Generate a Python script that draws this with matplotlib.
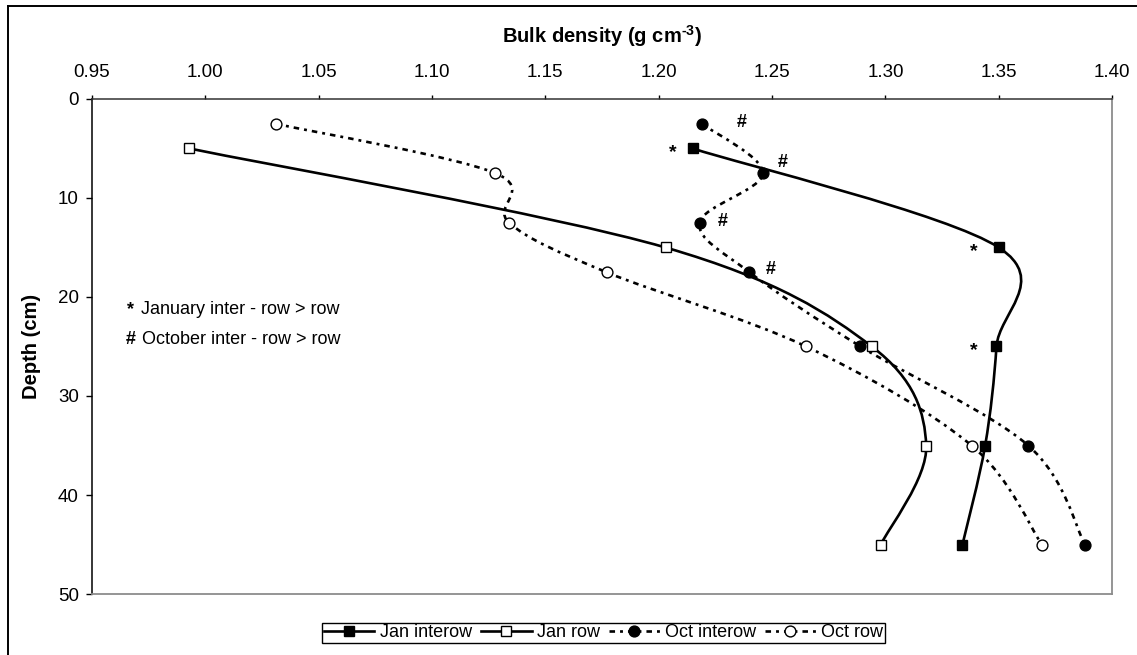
import numpy as np
import matplotlib
matplotlib.use("Agg")
import matplotlib.pyplot as plt
from matplotlib.path import Path
from matplotlib.patches import PathPatch
from matplotlib.lines import Line2D

plt.rcParams['font.family'] = ['Liberation Sans', 'DejaVu Sans']

# bulk density profiles (g cm-3) by sampling depth (cm)
depth_jan = [5, 15, 25, 35, 45]
jan_interow = [1.215, 1.350, 1.349, 1.344, 1.334]
jan_row = [0.993, 1.203, 1.294, 1.318, 1.298]

depth_oct = [2.5, 7.5, 12.5, 17.5, 25, 35, 45]
oct_interow = [1.219, 1.246, 1.218, 1.240, 1.289, 1.363, 1.388]
oct_row = [1.031, 1.128, 1.134, 1.177, 1.265, 1.338, 1.369]

# depths where inter-row > row
jan_sig = [5, 15, 25]
oct_sig = [2.5, 7.5, 12.5, 17.5]

x_ticks = [0.95, 1.00, 1.05, 1.10, 1.15, 1.20, 1.25, 1.30, 1.35, 1.40]
y_ticks = [0, 10, 20, 30, 40, 50]

DASH = (0, (2.1, 1.9, 1.1, 1.9))
LW = 1.9
MS = 7.8


def smooth_path(xs, ys):
    """Catmull-Rom style bezier through the points (like a spreadsheet smoothed line)."""
    p = np.column_stack([xs, ys]).astype(float)
    n = len(p)
    verts = [p[0]]
    codes = [Path.MOVETO]
    for i in range(n - 1):
        p0 = p[i - 1] if i > 0 else p[i]
        p1 = p[i]
        p2 = p[i + 1]
        p3 = p[i + 2] if i + 2 < n else p[i + 1]
        c1 = p1 + (p2 - p0) / 6.0
        c2 = p2 - (p3 - p1) / 6.0
        verts += [c1, c2, p2]
        codes += [Path.CURVE4] * 3
    return Path(verts, codes)


def draw_series(ax, xs, ys, ls, marker, face):
    patch = PathPatch(smooth_path(xs, ys), fill=False, edgecolor='black',
                      linewidth=LW, linestyle=ls, capstyle='butt', zorder=2)
    ax.add_patch(patch)
    ax.plot(xs, ys, linestyle='none', marker=marker, markersize=MS,
            markerfacecolor=face, markeredgecolor='black', markeredgewidth=1.0,
            zorder=3)


fig = plt.figure(figsize=(11.37, 6.55), dpi=100)
ax = fig.add_axes([0.0809, 0.0931, 0.8972, 0.7558])

draw_series(ax, jan_interow, depth_jan, '-', 's', 'black')
draw_series(ax, jan_row, depth_jan, '-', 's', 'white')
draw_series(ax, oct_interow, depth_oct, DASH, 'o', 'black')
draw_series(ax, oct_row, depth_oct, DASH, 'o', 'white')

ax.set_xlim(0.95, 1.40)
ax.set_ylim(50, 0)
ax.xaxis.tick_top()
ax.xaxis.set_label_position('top')
ax.set_xticks(x_ticks)
ax.set_xticklabels([f"{v:.2f}" for v in x_ticks])
ax.set_yticks(y_ticks)
ax.tick_params(axis='x', direction='out', length=3.2, width=1.0, pad=10,
               labelsize=13.5, colors='black')
ax.tick_params(axis='y', direction='out', length=4, width=1.0, pad=5.5,
               labelsize=13.5, colors='black')

ax.spines['top'].set_color('#333333')
ax.spines['top'].set_linewidth(1.1)
ax.spines['left'].set_color('black')
ax.spines['left'].set_linewidth(1.1)
ax.spines['right'].set_color('#8c8c8c')
ax.spines['right'].set_linewidth(1.3)
ax.spines['bottom'].set_color('#8c8c8c')
ax.spines['bottom'].set_linewidth(1.3)

ax.set_xlabel('Bulk density (g cm$^{\\mathregular{\u20103}}$)', fontsize=14.5,
              fontweight='bold', labelpad=15)
ax.set_ylabel('Depth (cm)', fontsize=14.5, fontweight='bold', labelpad=12)

# significance marks next to the points
jan_offsets = [(-14, -3), (-18, -3), (-16, -3)]
for d, off in zip(jan_sig, jan_offsets):
    xv = jan_interow[depth_jan.index(d)]
    ax.annotate('*', xy=(xv, d), xytext=off, textcoords='offset points',
                ha='center', va='center', fontsize=14, fontweight='bold')
oct_offsets = [(29, 1), (14, 8), (17, 1), (15, 2)]
for d, off in zip(oct_sig, oct_offsets):
    xv = oct_interow[depth_oct.index(d)]
    ax.annotate('#', xy=(xv, d), xytext=off, textcoords='offset points',
                ha='center', va='center', fontsize=13, fontweight='bold')

ax.text(0.034, 0.575, '*', transform=ax.transAxes, fontsize=13,
        fontweight='bold', va='center', ha='left')
ax.text(0.0485, 0.575, 'January inter - row > row', transform=ax.transAxes,
        fontsize=13, va='center', ha='left')
ax.text(0.0335, 0.515, '#', transform=ax.transAxes, fontsize=13,
        fontweight='bold', va='center', ha='left')
ax.text(0.0495, 0.515, 'October inter - row > row', transform=ax.transAxes,
        fontsize=13, va='center', ha='left')

handles = [
    Line2D([0], [0], color='black', lw=LW, marker='s', markersize=MS,
           markerfacecolor='black', markeredgecolor='black', label='Jan interow'),
    Line2D([0], [0], color='black', lw=LW, marker='s', markersize=MS,
           markerfacecolor='white', markeredgecolor='black', label='Jan row'),
    Line2D([0], [0], color='black', lw=LW, ls=DASH, marker='o', markersize=MS,
           markerfacecolor='black', markeredgecolor='black', label='Oct interow'),
    Line2D([0], [0], color='black', lw=LW, ls=DASH, marker='o', markersize=MS,
           markerfacecolor='white', markeredgecolor='black', label='Oct row'),
]
leg = fig.legend(handles=handles, loc='center', bbox_to_anchor=(0.5308, 0.0336),
                 ncol=4, fontsize=13, frameon=True, fancybox=False, framealpha=1,
                 edgecolor='black', borderpad=0.1, handlelength=2.8,
                 handletextpad=0.3, columnspacing=0.5, borderaxespad=0)
leg.get_frame().set_linewidth(1.0)

# outer chart frame
fig.add_artist(Line2D([0.00704, 0.00704], [0, 0.9908], color='black', lw=1.4,
                      transform=fig.transFigure))
fig.add_artist(Line2D([0.00704, 1], [0.9908, 0.9908], color='black', lw=1.4,
                      transform=fig.transFigure))

fig.savefig('out.png', dpi=100)
